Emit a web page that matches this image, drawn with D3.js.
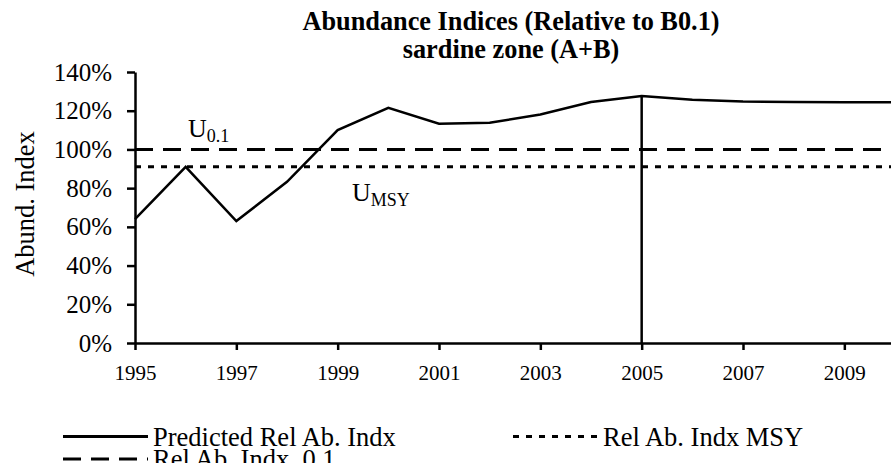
<!DOCTYPE html>
<html>
<head>
<meta charset="utf-8">
<script src="https://cdn.jsdelivr.net/npm/d3@7"></script>
<style>
  body { margin: 0; background: #fff; }
  svg text { font-family: "Liberation Serif", "Times New Roman", serif; }
</style>
</head>
<body>
<div id="chart"></div>
<script>
// data
const years = [1995, 1996, 1997, 1998, 1999, 2000, 2001, 2002, 2003, 2004, 2005, 2006, 2007, 2008, 2009, 2010];
const predicted = [0.64, 0.91, 0.63, 0.833, 1.10, 1.215, 1.133, 1.138, 1.18, 1.245, 1.276, 1.257, 1.248, 1.245, 1.244, 1.244];
const ref01 = 1.0;
const refMSY = 0.91;
const markYear = 2005;
const yTicks = [0, 0.2, 0.4, 0.6, 0.8, 1.0, 1.2, 1.4];
const xTicks = [1995, 1997, 1999, 2001, 2003, 2005, 2007, 2009];

const width = 891, height = 463;
const plot = { left: 135, right: 895, top: 72, bottom: 343 };
const serif = "Liberation Serif, Times New Roman, serif";

const svg = d3.select("#chart").append("svg")
    .attr("width", width)
    .attr("height", height)
    .style("display", "block");

const x = d3.scaleLinear().domain([1995, 2010]).range([plot.left, plot.right]);
const y = d3.scaleLinear().domain([0, 1.4]).range([plot.bottom, plot.top]);

// title
svg.append("text")
    .attr("x", 511).attr("y", 30)
    .attr("text-anchor", "middle")
    .attr("font-family", serif)
    .style("font-weight", "bold").style("font-size", "26.3px")
    .text("Abundance Indices (Relative to B0.1)");
svg.append("text")
    .attr("x", 511).attr("y", 58)
    .attr("text-anchor", "middle")
    .attr("font-family", serif)
    .style("font-weight", "bold").style("font-size", "26.3px")
    .text("sardine zone (A+B)");

// axes
const yAxis = d3.axisLeft(y).tickValues(yTicks).tickFormat(d3.format(".0%")).tickSize(8).tickSizeOuter(0);
const xAxis = d3.axisBottom(x).tickValues(xTicks).tickFormat(d3.format("d")).tickSize(7).tickSizeOuter(0);

const gy = svg.append("g").attr("transform", `translate(${plot.left},0)`).call(yAxis)
    .attr("font-family", serif);
gy.selectAll("text").style("font-size", "25px").attr("x", -23).attr("fill", "#000");
gy.selectAll("line, path").attr("stroke", "#000").attr("stroke-width", 2.5);

const gx = svg.append("g").attr("transform", `translate(0,${plot.bottom})`).call(xAxis)
    .attr("font-family", serif);
gx.selectAll("text").style("font-size", "21px").attr("y", 22).attr("fill", "#000");
gx.selectAll("line, path").attr("stroke", "#000").attr("stroke-width", 2.5);

// y label
svg.append("text")
    .attr("transform", "translate(34,204) rotate(-90)")
    .attr("text-anchor", "middle")
    .attr("font-family", serif)
    .style("font-size", "26.5px")
    .text("Abund. Index");

// reference lines
svg.append("line")
    .attr("x1", plot.left).attr("x2", plot.right)
    .attr("y1", y(ref01)).attr("y2", y(ref01))
    .attr("stroke", "#000").attr("stroke-width", 3)
    .attr("stroke-dasharray", "18,10");
svg.append("line")
    .attr("x1", plot.left).attr("x2", plot.right)
    .attr("y1", y(refMSY)).attr("y2", y(refMSY))
    .attr("stroke", "#000").attr("stroke-width", 3)
    .attr("stroke-dasharray", "6,7");

// vertical line at 2005
svg.append("line")
    .attr("x1", x(markYear)).attr("x2", x(markYear))
    .attr("y1", y(0)).attr("y2", y(predicted[years.indexOf(markYear)]))
    .attr("stroke", "#000").attr("stroke-width", 2.5);

// predicted line
const line = d3.line().x((d, i) => x(years[i])).y(d => y(d));
svg.append("path")
    .datum(predicted)
    .attr("fill", "none")
    .attr("stroke", "#000")
    .attr("stroke-width", 2.5)
    .attr("d", line);

// U labels
const u01 = svg.append("text").attr("x", 188).attr("y", 137)
    .attr("font-family", serif).style("font-size", "26px");
u01.append("tspan").text("U");
u01.append("tspan").attr("dy", 5).style("font-size", "18px").text("0.1");
const umsy = svg.append("text").attr("x", 352).attr("y", 201)
    .attr("font-family", serif).style("font-size", "26px");
umsy.append("tspan").text("U");
umsy.append("tspan").attr("dy", 5).style("font-size", "18px").text("MSY");

// legend
const legendItems = [
    { label: "Predicted Rel Ab. Indx", x: 63, y: 436.5, dash: null },
    { label: "Rel Ab. Indx MSY", x: 513, y: 436.5, dash: "6,7" },
    { label: "Rel Ab. Indx  0.1", x: 63, y: 459, dash: "18,10" }
];
const lg = svg.append("g").selectAll("g").data(legendItems).enter().append("g");
lg.append("line")
    .attr("x1", d => d.x).attr("x2", d => d.x + 85)
    .attr("y1", d => d.y).attr("y2", d => d.y)
    .attr("stroke", "#000").attr("stroke-width", 3)
    .attr("stroke-dasharray", d => d.dash);
lg.append("text")
    .attr("x", d => d.x + 90).attr("y", d => d.y + 9)
    .attr("font-family", serif)
    .style("font-size", "26.5px")
    .style("white-space", "pre")
    .text(d => d.label);
</script>
</body>
</html>
